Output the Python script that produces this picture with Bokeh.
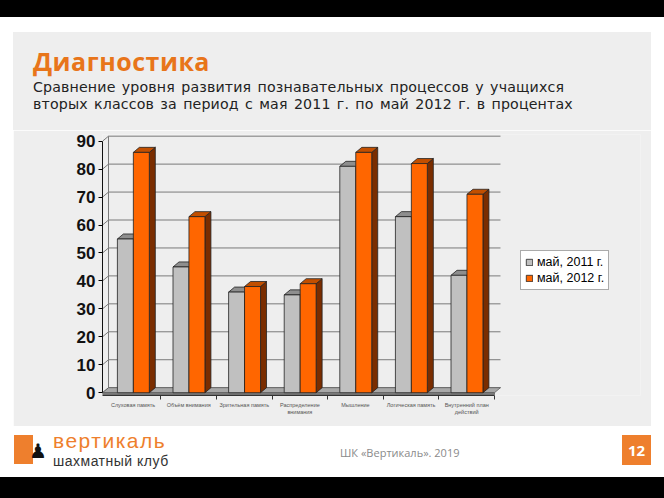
from bokeh.plotting import figure
from bokeh.models import Div, Spacer, FixedTicker, Range1d, Legend, LegendItem
from bokeh.layouts import column, row
from bokeh.embed import file_html
from bokeh.resources import INLINE

# ---- data ----
categories = ["Слуховая память", "Объём внимания", "Зрительная память",
              "Распределение\nвнимания", "Мышление", "Логическая память",
              "Внутренний план\nдействий"]
series_names = ["май, 2011 г.", "май, 2012 г."]
values_2011 = [55, 45, 36, 35, 81, 63, 42]
values_2012 = [86, 63, 38, 39, 86, 82, 71]
y_ticks = [0, 10, 20, 30, 40, 50, 60, 70, 80, 90]

PANEL = "#eeeeee"
ORANGE_TXT = "#e8751a"

# 3D depth offsets in data units
DX = 0.108
DY = 1.8
X0 = -0.55
X1 = 6.5
BW = 0.287

p = figure(width=638, height=296, output_backend="svg", toolbar_location=None,
           x_range=Range1d(X0, 9.126), y_range=Range1d(-1, 92.4),
           min_border_left=89, min_border_right=11, min_border_top=4, min_border_bottom=31)
p.background_fill_color = PANEL
p.border_fill_color = PANEL
p.outline_line_color = None
p.xgrid.visible = False
p.ygrid.visible = False

# back wall gridlines and left wall connectors
gx0, gx1, gy, cx0, cx1, cy0, cy1 = [], [], [], [], [], [], []
for t in y_ticks:
    gx0.append(X0 + DX); gx1.append(X1 + DX); gy.append(t + DY)
    cx0.append(X0); cx1.append(X0 + DX); cy0.append(t); cy1.append(t + DY)
p.segment(x0=gx0, y0=gy, x1=gx1, y1=gy, line_color="#7a7a7a", line_width=1)
p.segment(x0=cx0, y0=cy0, x1=cx1, y1=cy1, line_color="#7a7a7a", line_width=1)
p.segment(x0=[X0 + DX], y0=[DY], x1=[X0 + DX], y1=[y_ticks[-1] + DY],
          line_color="#7a7a7a", line_width=1)

# floor
p.patch(x=[X0, X1, X1 + DX, X0 + DX], y=[0, 0, DY, DY],
        fill_color="#a8a8a8", line_color="#555555", line_width=0.7)
p.patch(x=[X0, X1, X1, X0], y=[0, 0, -0.7, -0.7],
        fill_color="#808080", line_color="#555555", line_width=0.7)


def bar3d(lefts, vals, front, top, side):
    rights = [l + BW for l in lefts]
    sx = [[r, r + DX, r + DX, r] for r in rights]
    sy = [[0, DY, v + DY, v] for v in vals]
    p.patches(xs=sx, ys=sy, fill_color=side, line_color="#222222", line_width=0.8)
    tx = [[l, r, r + DX, l + DX] for l, r in zip(lefts, rights)]
    ty = [[v, v, v + DY, v + DY] for v in vals]
    p.patches(xs=tx, ys=ty, fill_color=top, line_color="#222222", line_width=0.8)
    r = p.quad(left=lefts, right=rights, bottom=[0] * len(vals), top=vals,
               fill_color=front, line_color="#222222", line_width=0.8)
    return r


centers = list(range(len(categories)))
r1 = bar3d([c - 0.282 for c in centers], values_2011, "#c0c0c0", "#8e8e8e", "#7c7c7c")
r2 = bar3d([c + 0.005 for c in centers], values_2012, "#ff6600", "#c24f00", "#7a2d00")

legend = Legend(items=[LegendItem(label=series_names[0], renderers=[r1]),
                       LegendItem(label=series_names[1], renderers=[r2])],
                location=(418, 105))
legend.label_text_font = "Liberation Sans"
legend.label_text_font_size = "12.5px"
legend.label_text_color = "#000000"
legend.glyph_width = 8
legend.glyph_height = 8
legend.label_standoff = 4
legend.padding = 4
legend.spacing = 2
legend.margin = 0
legend.label_height = 14
legend.border_line_color = "#555555"
legend.border_line_width = 1
legend.background_fill_color = "#ffffff"
legend.background_fill_alpha = 1
p.add_layout(legend)

# axes
p.yaxis.ticker = FixedTicker(ticks=y_ticks)
p.yaxis.bounds = (0, 90)
p.yaxis.major_label_text_font = "Liberation Sans"
p.yaxis.major_label_text_font_size = "17px"
p.yaxis.major_label_text_font_style = "bold"
p.yaxis.major_label_text_color = "#111111"
p.yaxis.major_tick_out = 4
p.yaxis.major_tick_in = 0
p.yaxis.minor_tick_line_color = None
p.yaxis.major_label_standoff = 3
p.yaxis.axis_line_color = "#111111"

p.xaxis.ticker = FixedTicker(ticks=centers, minor_ticks=[c + 0.5 for c in centers])
p.xaxis.major_label_overrides = {c: categories[c] for c in centers}
p.xaxis.bounds = (X0, X1)
p.xaxis.major_tick_line_color = None
p.xaxis.major_tick_out = 0
p.xaxis.major_tick_in = 0
p.xaxis.minor_tick_out = 4
p.xaxis.minor_tick_in = 0
p.xaxis.minor_tick_line_color = "#333333"
p.xaxis.axis_line_color = "#333333"
p.xaxis.major_label_text_font = "Liberation Sans"
p.xaxis.major_label_text_font_size = "5.5px"
p.xaxis.major_label_text_color = "#555555"
p.xaxis.major_label_standoff = 2

header = Div(width=664, height=32, margin=0,
             text='<div style="width:664px;height:17px;background:#000;"></div>')

SUB = ("position:absolute;left:20px;font-family:'DejaVu Sans';font-size:14.2px;line-height:16px;"
       "letter-spacing:0.15px;word-spacing:1.6px;color:#222;white-space:nowrap;")
title_div = Div(width=638, height=98, margin=0, text=(
    '<div style="position:relative;width:638px;height:98px;background:%s;">'
    '<div style="position:absolute;left:20px;top:15px;font-family:\'Open Sans\';font-size:25px;font-weight:bold;'
    'letter-spacing:0.5px;line-height:28px;color:%s;white-space:nowrap;">Диагностика</div>'
    '<div style="%stop:47px;">Сравнение уровня развития познавательных процессов у учащихся</div>'
    '<div style="%stop:64px;">вторых классов за период с мая 2011 г. по май 2012 г. в процентах</div>'
    '</div>') % (PANEL, ORANGE_TXT, SUB, SUB))

footer = Div(width=664, height=72, margin=0, text=(
    '<div style="position:relative;width:664px;height:72px;background:#fff;">'
    '<div style="position:absolute;left:14px;top:9px;width:19px;height:29px;background:#ee7f2d;"></div>'
    '<div style="position:absolute;left:29px;top:14px;font-family:\'DejaVu Sans\';font-size:20px;line-height:22px;color:#111;">♟</div>'
    '<div style="position:absolute;left:53px;top:3px;font-family:\'Liberation Sans\';font-size:21px;letter-spacing:1.5px;'
    'line-height:24px;color:#ee7f2d;white-space:nowrap;">вертикаль</div>'
    '<div style="position:absolute;left:53px;top:27px;font-family:\'Liberation Sans\';font-size:14px;letter-spacing:0.5px;'
    'line-height:16px;color:#333;white-space:nowrap;">шахматный клуб</div>'
    '<div style="position:absolute;left:340px;top:20px;font-family:\'Open Sans\';font-size:11px;line-height:13px;'
    'color:#8a8a8a;white-space:nowrap;">ШК «Вертикаль». 2019</div>'
    '<div style="position:absolute;left:622px;top:9px;width:29px;height:30px;background:#ee7f2d;color:#fff;'
    'font-family:\'Open Sans\';font-weight:bold;font-size:15px;line-height:30px;text-align:center;">12</div>'
    '<div style="position:absolute;left:0px;top:51px;width:664px;height:21px;background:#000;"></div>'
    '</div>'))

panel = column(title_div, p, margin=0, spacing=0)
mid = row(Spacer(width=13, height=394, margin=0), panel, Spacer(width=13, height=394, margin=0),
          margin=0, spacing=0)
layout = column(header, mid, footer, margin=0, spacing=0)

open("out.html", "w").write(file_html(layout, INLINE))
